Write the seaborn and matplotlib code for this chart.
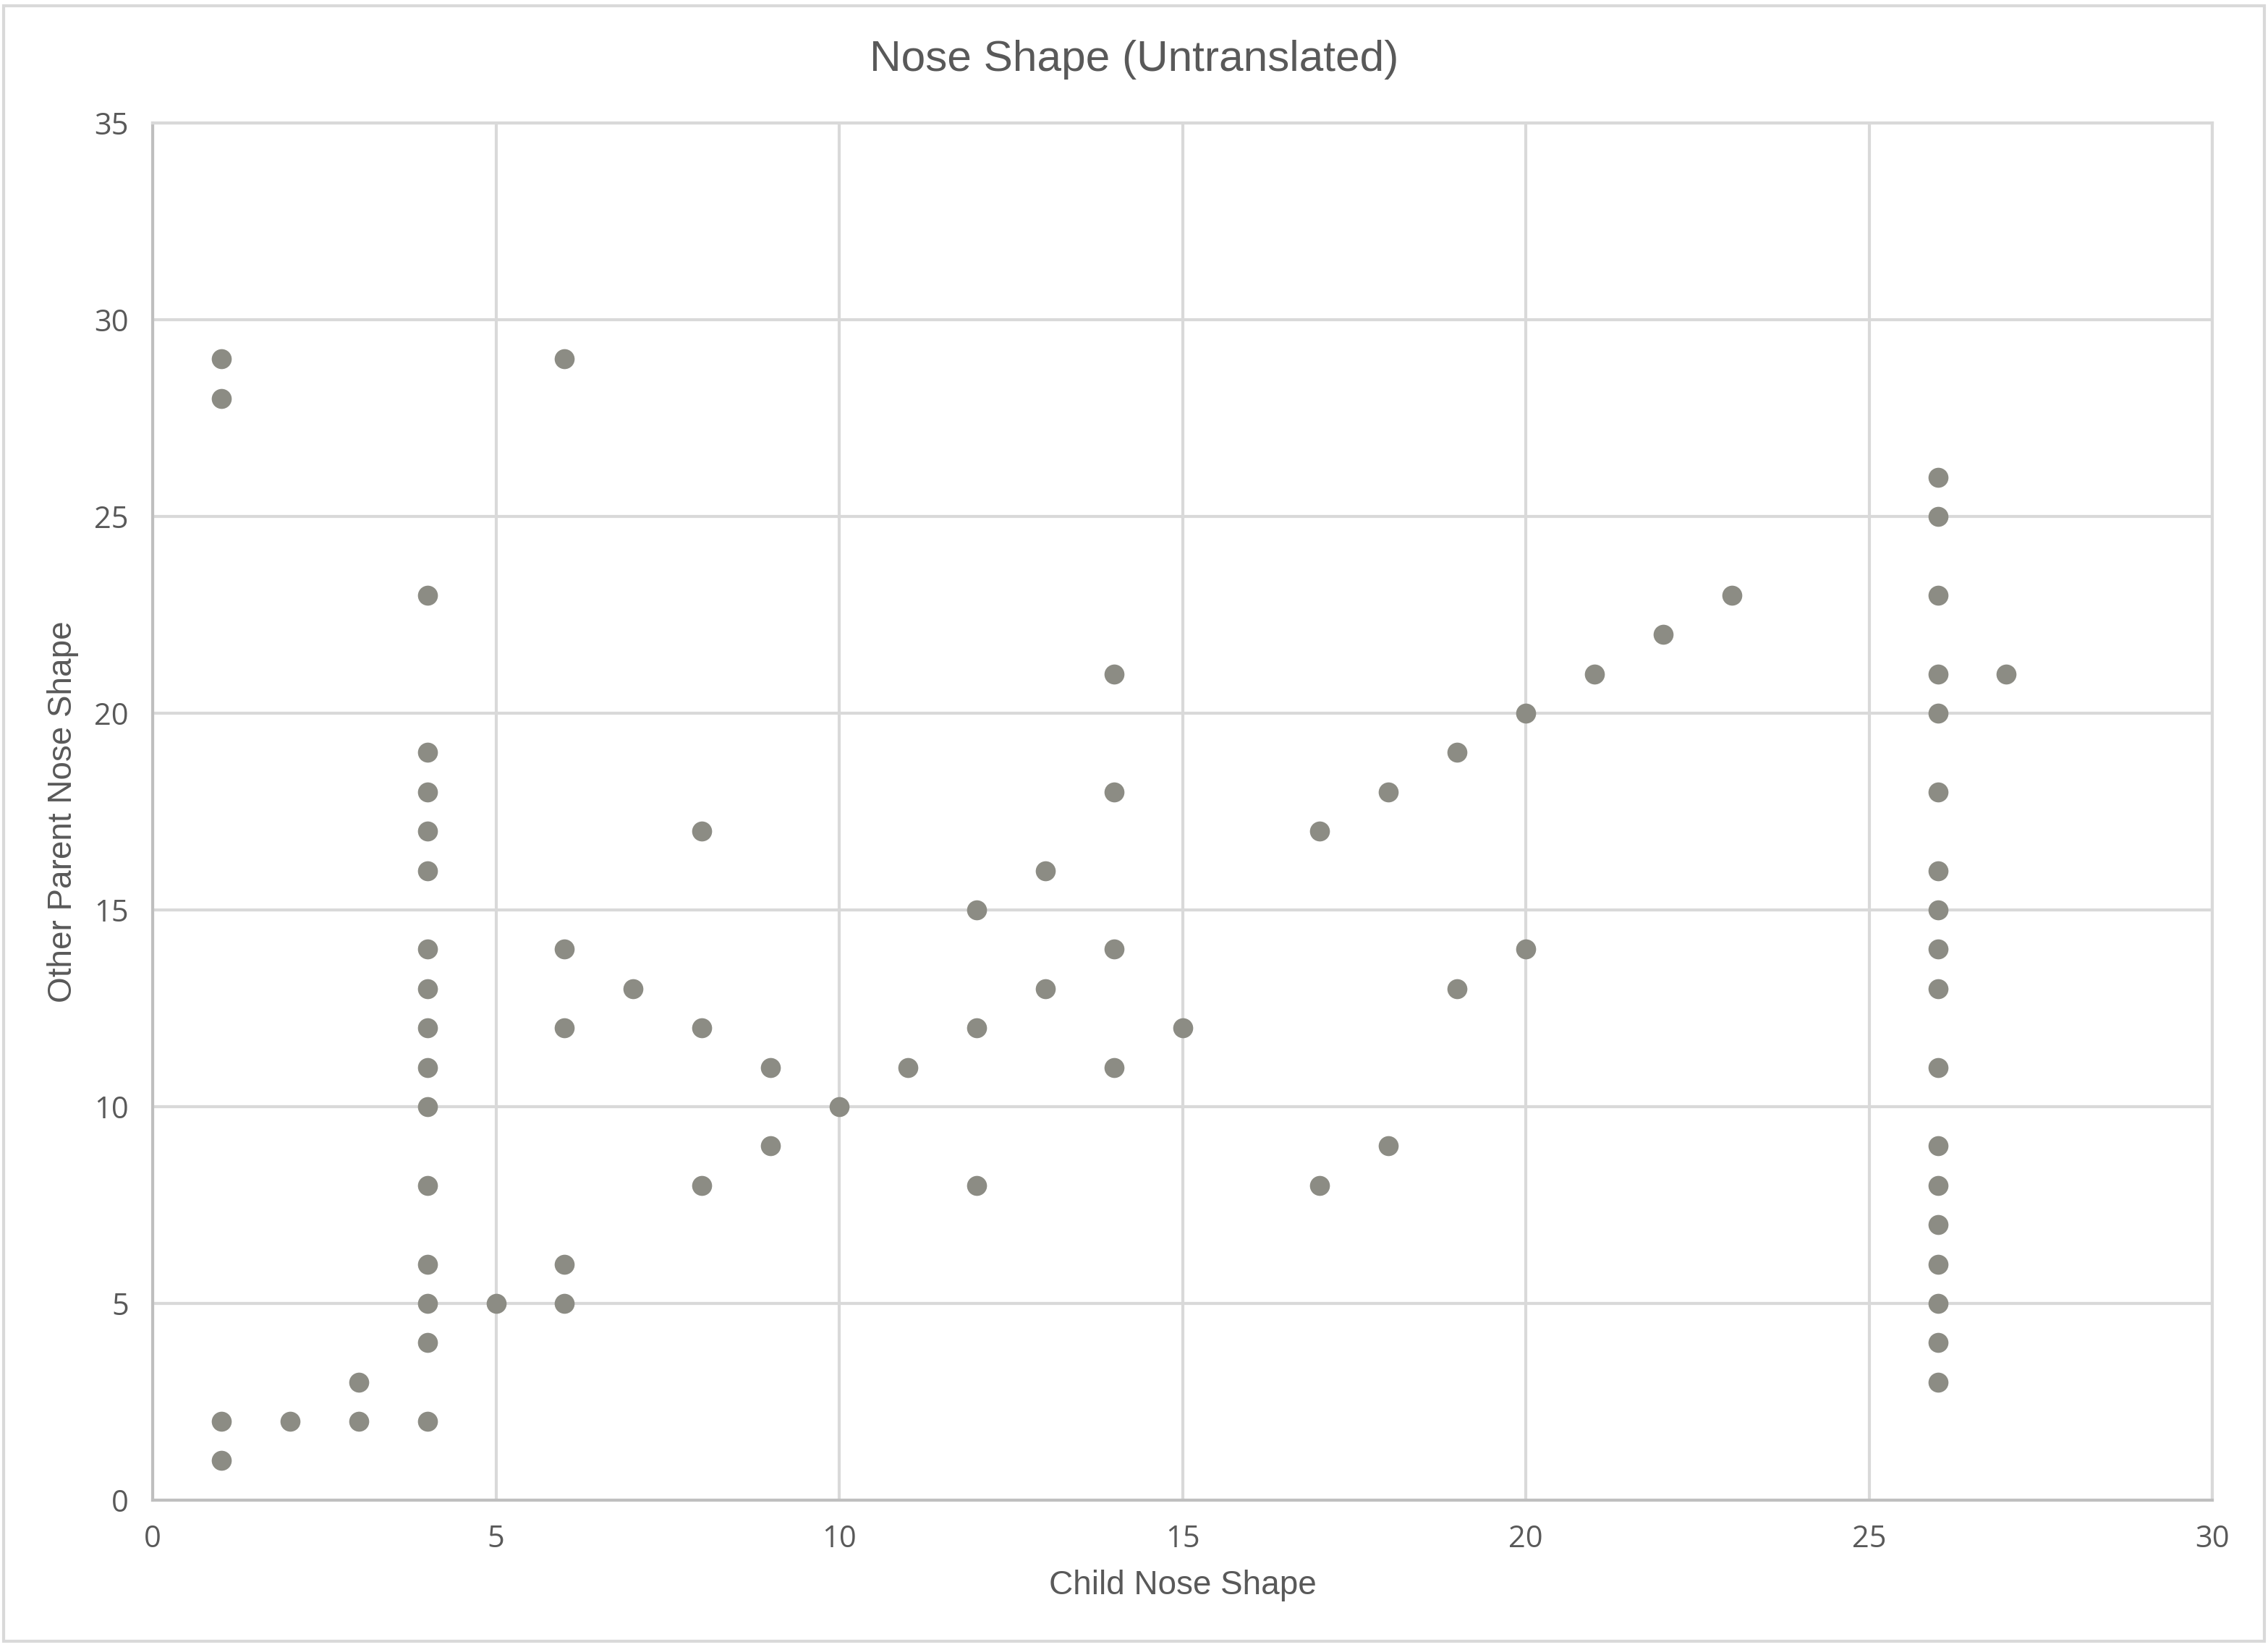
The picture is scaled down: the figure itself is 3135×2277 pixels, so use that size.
import matplotlib
matplotlib.use("Agg")
import matplotlib.pyplot as plt
import seaborn as sns
import pandas as pd
from matplotlib.patches import Rectangle

# data: child nose shape vs other parent nose shape
child = (
    [1, 1, 1, 1, 2, 3, 3]
    + [4] * 15
    + [5, 6, 6, 6, 6, 6, 7, 8, 8, 8, 9, 9, 10, 11, 12, 12, 12, 13, 13,
       14, 14, 14, 14, 15, 17, 17, 18, 18, 19, 19, 20, 20, 21, 22, 23]
    + [26] * 18
    + [27]
)
other_parent = (
    [29, 28, 2, 1, 2, 3, 2]
    + [23, 19, 18, 17, 16, 14, 13, 12, 11, 10, 8, 6, 5, 4, 2]
    + [5, 29, 14, 12, 6, 5, 13, 17, 12, 8, 11, 9, 10, 11, 15, 12, 8, 16, 13,
       21, 18, 14, 11, 12, 17, 8, 18, 9, 19, 13, 20, 14, 21, 22, 23]
    + [26, 25, 23, 21, 20, 18, 16, 15, 14, 13, 11, 9, 8, 7, 6, 5, 4, 3]
    + [21]
)

df = pd.DataFrame({"child": child, "other": other_parent})

sns.set_theme(style="white")
plt.rcParams["font.family"] = ["Liberation Sans Narrow", "Liberation Sans", "DejaVu Sans"]

text_color = "#595959"
grid_color = "#D9D9D9"

fig = plt.figure(figsize=(10.45, 7.59), dpi=300)
ax = fig.add_axes([0.0673, 0.0892, 0.9082, 0.8361])

sns.scatterplot(data=df, x="child", y="other", ax=ax, color="#8C8C84",
                s=44, linewidth=0, zorder=3)

ax.set_xlim(0, 30)
ax.set_ylim(0, 35)
ax.set_xticks(range(0, 31, 5))
ax.set_yticks(range(0, 36, 5))
ax.grid(True, color=grid_color, linewidth=1.0)
ax.set_axisbelow(True)
for side, spine in ax.spines.items():
    spine.set_visible(True)
    spine.set_color(grid_color if side in ("top", "right") else "#BFBFBF")
    spine.set_linewidth(1.0)
ax.tick_params(axis="both", length=0, labelsize=10, labelcolor=text_color, pad=8)
for lab in ax.get_xticklabels() + ax.get_yticklabels():
    lab.set_family(["Open Sans", "DejaVu Sans"])

ax.set_xlabel("Child Nose Shape", fontsize=11, color=text_color, labelpad=5)
ax.set_ylabel("Other Parent Nose Shape", fontsize=11, color=text_color, labelpad=5)
fig.suptitle("Nose Shape (Untranslated)", x=0.5, y=0.976, va="top",
             fontsize=14.5, color=text_color)

# thin border around the whole chart area
fig.patches.append(Rectangle((0.0016, 0.0035), 0.9968, 0.993, transform=fig.transFigure,
                             fill=False, edgecolor="#D9D9D9", linewidth=1.0))

fig.savefig("out.png", dpi=300, facecolor="white")
